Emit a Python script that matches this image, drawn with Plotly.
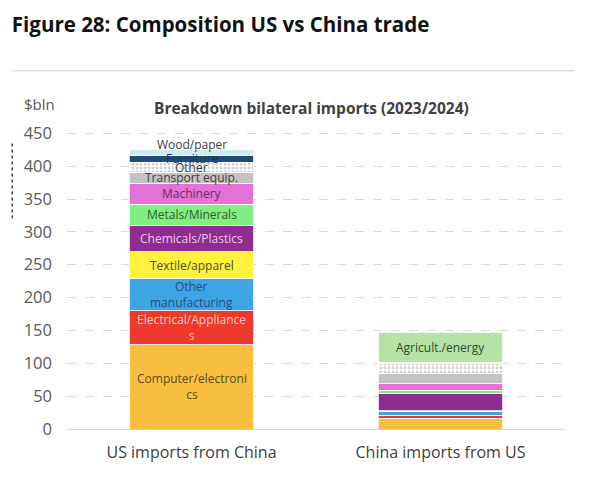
import plotly.graph_objects as go

# US imports from China vs China imports from US, $bln (2023/2024)
categories = ["US imports from China", "China imports from US"]

sectors = ["Computer/electronics", "Electrical/Appliances", "Other manufacturing",
           "Textile/apparel", "Chemicals/Plastics", "Metals/Minerals", "Machinery",
           "Transport equip.", "Other", "Furniture", "Wood/paper", "Agricult./energy"]
seg_labels = ["Computer/electroni<br>cs", "Electrical/Appliance<br>s", "Other<br>manufacturing",
              "Textile/apparel", "Chemicals/Plastics", "Metals/Minerals", "Machinery",
              "Transport equip.", "Other", "Furniture", "Wood/paper", "Agricult./energy"]
us_from_china = [128, 52, 49, 41, 40, 32, 32, 17, 15, 10, 9, 0]
china_from_us = [16, 5, 6, 1, 26, 5, 10, 15, 15, 1, 1, 46]

colors = ["#F8BF3F", "#EE3A2C", "#3DA5E6", "#FFF23C", "#8F2C8F", "#82EE82", "#E272D6",
          "#C3C3C3", "#FFFFFF", "#1E4D78", "#CFEBF0", "#B5E3A5"]
text_colors = ["#5A4A1A", "#F6C8C4", "#1F4E79", "#4A4A2A", "#F2C6EE", "#2E5E2E", "#6B2A6B",
               "#404040", "#404040", "#1A3A5A", "#404040", "#2E4A2E"]

FONT = "Open Sans"

fig = go.Figure()
for i, name in enumerate(sectors):
    marker = dict(color=colors[i], line=dict(color="white", width=0.8))
    if name == "Other":
        marker["pattern"] = dict(shape=".", fgcolor="#a0a0a0", bgcolor="white", size=4, solidity=0.4)
    fig.add_trace(go.Bar(x=categories, y=[us_from_china[i], china_from_us[i]], name=name,
                         marker=marker, hoverinfo="name+y"))

# segment labels at the middle of each stacked piece
annotations = []
base = [0, 0]
for i, name in enumerate(sectors):
    vals = [us_from_china[i], china_from_us[i]]
    for j in range(2):
        if vals[j] > 0 and (j == 0 or name == "Agricult./energy"):
            annotations.append(dict(x=categories[j], y=base[j] + vals[j] / 2, text=seg_labels[i],
                                    showarrow=False, yshift=8 if name == "Wood/paper" else 0,
                                    font=dict(family=FONT, size=12, color=text_colors[i])))
        base[j] += vals[j]

annotations += [
    dict(xref="paper", yref="paper", x=-0.09, y=1.087, text="$bln", showarrow=False,
         xanchor="left", yanchor="middle", font=dict(family=FONT, size=15, color="#595959")),
    dict(xref="paper", yref="paper", x=0.49, y=1.074, text="<b>Breakdown bilateral imports (2023/2024)</b>",
         showarrow=False, yanchor="middle", font=dict(family=FONT, size=15.5, color="#404040")),
]

fig.update_layout(
    width=592, height=481,
    barmode="stack", bargap=0.5,
    showlegend=False,
    plot_bgcolor="white", paper_bgcolor="white",
    margin=dict(l=67, r=27, t=130, b=52),
    title=dict(text="<b>Figure 28: Composition US vs China trade</b>", xref="container", x=0.02,
               y=0.948, xanchor="left", yanchor="middle",
               font=dict(family=FONT, size=20.5, color="#111111")),
    annotations=annotations,
    shapes=[
        dict(type="line", xref="paper", yref="paper", x0=-0.11, x1=1.02, y0=1.198, y1=1.198,
             line=dict(color="#cccccc", width=1)),
        dict(type="line", xref="paper", yref="paper", x0=-0.11, x1=-0.11, y0=0.955, y1=0.705,
             line=dict(color="#444444", width=1.5, dash="dot")),
    ],
    xaxis=dict(tickfont=dict(family=FONT, size=16, color="#404040"), showline=False, ticks="",
               ticklabelstandoff=12),
    yaxis=dict(range=[0, 455], dtick=50, tickfont=dict(family=FONT, size=16.5, color="#595959"),
               gridcolor="#d9d9d9", griddash="dash", zeroline=True, zerolinecolor="#d0d0d0",
               zerolinewidth=1, showline=False, ticks="", ticklabelstandoff=14),
)

# drop the browser's default body margin so the figure sits at the page corner
fig.write_html("out.html", config={"displayModeBar": False},
               post_script="document.body.style.margin='0';")
